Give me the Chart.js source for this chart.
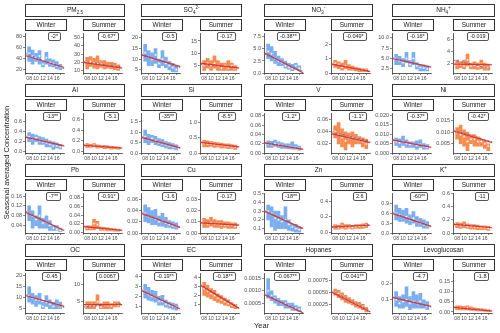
<!DOCTYPE html>
<html>
<head>
<meta charset="utf-8">
<script src="https://cdn.jsdelivr.net/npm/chart.js@4.4.1/dist/chart.umd.min.js"></script>
<style>
body{margin:0;width:500px;height:333px;background:#fff;position:relative;overflow:hidden;font-family:"Liberation Sans",Arial,sans-serif;}
.strip{position:absolute;border:1px solid #333;background:#fff;box-sizing:border-box;font-size:6.5px;line-height:10px;text-align:center;color:#1a1a1a;filter:grayscale(1);}
.strip sub,.strip sup{font-size:4.5px;line-height:0;}
.note{position:absolute;border:1px solid #555;border-radius:2px;font-size:5.5px;line-height:7px;padding:0 2px;background:#fff;color:#1a1a1a;filter:grayscale(1);}
canvas{position:absolute;}
.ytitle{position:absolute;left:-64px;top:158px;width:140px;text-align:center;font-size:7.5px;transform:rotate(-90deg);color:#1a1a1a;filter:grayscale(1);}
.xtitle{position:absolute;left:254px;top:321px;font-size:7.5px;color:#1a1a1a;filter:grayscale(1);}
</style>
</head>
<body>
<div class="ytitle">Seasonal averaged Concentration</div>
<div class="xtitle">Year</div>
<script>
// anni (stagioni) e etichette asse x
const years = [2008, 2009, 2010, 2011, 2012, 2013, 2014, 2015, 2016, 2017];
const xTickValues = [2008, 2010, 2012, 2014, 2016];
const xTickLabels = ['08', '10', '12', '14', '16'];

const species = ['PM<sub>2.5</sub>', 'SO<sub>4</sub><sup>2-</sup>', 'NO<sub>3</sub><sup>-</sup>', 'NH<sub>4</sub><sup>+</sup>',
  'Al', 'Si', 'V', 'Ni', 'Pb', 'Cu', 'Zn', 'K<sup>+</sup>', 'OC', 'EC', 'Hopanes', 'Levoglucosan'];

// box: [min, mediana, max] per anno
const pm25Winter = [[35,50,62],[30,45,56],[35,42,50],[30,45,55],[25,30,36],[30,42,52],[26,33,40],[25,31,38],[22,27,35],[20,25,30]];
const pm25Summer = [[12,20,26],[15,21,27],[13,19,25],[12,18,28],[14,18,22],[12,16,22],[13,16,20],[12,15,20],[11,15,19],[10,13,17]];
const so4Winter = [[9,13,17],[7,11,14],[7,10,13],[8,12,15],[6,8,10],[7,10,14],[6,8,11],[5,7,9],[4,6,8],[4,5,7]];
const so4Summer = [[3,5,7],[4,6,8],[3,5,7],[4,6,9],[3,5,7],[3,4,6],[3,5,6],[3,4,7],[3,5,6],[3,4,5]];
const no3Winter = [[3,4.5,6],[2.5,4,5.5],[2,3,4.5],[1.5,2.5,3.5],[1.5,2.2,3],[1,1.5,2.5],[0.8,1.2,2],[0.5,1,1.8],[0.8,1.5,2],[0.5,1,1.5]];
const no3Summer = [[0.4,0.7,0.9],[0.3,0.6,0.8],[0.2,0.4,0.7],[0.3,0.5,0.9],[0.2,0.4,0.6],[0.2,0.35,0.5],[0.15,0.3,0.4],[0.1,0.25,0.35],[0.1,0.2,0.3],[0.1,0.2,0.3]];
const nh4Winter = [[3.5,5,6],[3.5,4.5,5.5],[3,4,5],[4,5,6.5],[3,3.5,4.5],[3.5,5,6.5],[2.5,3.2,4],[2,2.8,3.5],[2,2.7,3.5],[2,2.5,3.2]];
const nh4Summer = [[1,1.8,2.5],[1.2,1.7,2.2],[1,1.5,2.5],[1.5,2.5,3.5],[1,1.5,2],[1,1.6,2.2],[0.9,1.4,2],[1,1.6,2.5],[0.8,1.3,2],[0.8,1.2,1.8]];
const alWinter = [[0.2,0.3,0.38],[0.15,0.25,0.35],[0.2,0.28,0.33],[0.15,0.22,0.3],[0.15,0.2,0.28],[0.1,0.18,0.25],[0.1,0.15,0.22],[0.05,0.12,0.2],[0.08,0.12,0.18],[0.06,0.1,0.15]];
const alSummer = [[0.08,0.12,0.15],[0.08,0.1,0.14],[0.09,0.12,0.15],[0.07,0.1,0.13],[0.08,0.1,0.12],[0.06,0.09,0.12],[0.07,0.09,0.11],[0.05,0.08,0.1],[0.06,0.08,0.1],[0.05,0.07,0.09]];
const siWinter = [[0.5,0.8,1.1],[0.4,0.65,0.9],[0.5,0.7,0.85],[0.4,0.6,0.8],[0.35,0.5,0.7],[0.3,0.45,0.65],[0.25,0.4,0.55],[0.2,0.35,0.5],[0.2,0.3,0.45],[0.15,0.28,0.4]];
const siSummer = [[0.2,0.32,0.42],[0.2,0.3,0.4],[0.22,0.3,0.38],[0.18,0.28,0.36],[0.2,0.27,0.34],[0.16,0.25,0.33],[0.17,0.24,0.3],[0.14,0.22,0.3],[0.15,0.21,0.28],[0.12,0.2,0.26]];
const vWinter = [[0.012,0.02,0.026],[0.012,0.018,0.025],[0.014,0.02,0.028],[0.012,0.018,0.024],[0.01,0.016,0.022],[0.01,0.015,0.02],[0.009,0.014,0.02],[0.008,0.013,0.024],[0.008,0.012,0.018],[0.006,0.01,0.015]];
const vSummer = [[0.03,0.04,0.05],[0.02,0.035,0.055],[0.015,0.03,0.045],[0.01,0.025,0.04],[0.02,0.03,0.038],[0.015,0.03,0.04],[0.02,0.028,0.036],[0.02,0.026,0.032],[0.015,0.024,0.03],[0.012,0.02,0.028]];
const niWinter = [[0.004,0.006,0.008],[0.003,0.0055,0.0075],[0.004,0.006,0.009],[0.003,0.005,0.007],[0.003,0.0045,0.006],[0.003,0.005,0.006],[0.002,0.004,0.0065],[0.003,0.0045,0.007],[0.002,0.0035,0.005],[0.002,0.003,0.0045]];
const niSummer = [[0.007,0.01,0.012],[0.005,0.009,0.013],[0.004,0.008,0.011],[0.002,0.006,0.01],[0.005,0.007,0.009],[0.004,0.007,0.009],[0.004,0.006,0.008],[0.004,0.006,0.007],[0.003,0.005,0.006],[0.002,0.004,0.005]];
const pbWinter = [[0.06,0.09,0.12],[0.03,0.08,0.1],[0.04,0.065,0.08],[0.03,0.08,0.12],[0.03,0.05,0.07],[0.03,0.055,0.08],[0.02,0.04,0.06],[0.02,0.03,0.04],[0.02,0.025,0.04],[0.015,0.02,0.03]];
const pbSummer = [[0.005,0.01,0.015],[0.005,0.01,0.015],[0.005,0.02,0.03],[0.01,0.018,0.025],[0.004,0.008,0.012],[0.004,0.007,0.011],[0.003,0.006,0.01],[0.003,0.006,0.009],[0.002,0.005,0.008],[0.002,0.004,0.006]];
const cuWinter = [[0.02,0.035,0.05],[0.018,0.03,0.045],[0.015,0.028,0.04],[0.015,0.025,0.042],[0.012,0.02,0.03],[0.012,0.022,0.035],[0.01,0.018,0.028],[0.01,0.015,0.022],[0.008,0.013,0.02],[0.007,0.012,0.018]];
const cuSummer = [[0.005,0.009,0.013],[0.005,0.008,0.012],[0.006,0.009,0.014],[0.005,0.008,0.012],[0.005,0.008,0.011],[0.004,0.007,0.011],[0.005,0.007,0.01],[0.004,0.007,0.01],[0.004,0.007,0.009],[0.004,0.006,0.009]];
const znWinter = [[0.2,0.3,0.37],[0.12,0.27,0.35],[0.08,0.22,0.3],[0.1,0.2,0.3],[0.1,0.18,0.25],[0.1,0.2,0.35],[0.08,0.15,0.2],[0.07,0.12,0.15],[0.06,0.1,0.15],[0.06,0.09,0.12]];
const znSummer = [[0.04,0.07,0.1],[0.04,0.06,0.09],[0.05,0.08,0.12],[0.04,0.07,0.1],[0.05,0.07,0.1],[0.04,0.06,0.09],[0.05,0.07,0.1],[0.05,0.08,0.1],[0.05,0.08,0.11],[0.06,0.09,0.12]];
const kWinter = [[0.4,0.6,0.85],[0.35,0.55,0.75],[0.35,0.5,0.7],[0.3,0.5,0.75],[0.25,0.4,0.55],[0.3,0.45,0.65],[0.2,0.35,0.5],[0.2,0.3,0.45],[0.15,0.25,0.4],[0.15,0.22,0.35]];
const kSummer = [[0.08,0.12,0.16],[0.07,0.11,0.15],[0.08,0.12,0.17],[0.07,0.1,0.14],[0.06,0.1,0.13],[0.06,0.09,0.13],[0.05,0.09,0.12],[0.05,0.08,0.11],[0.05,0.08,0.11],[0.04,0.07,0.1]];
const ocWinter = [[8,11,15],[7,10,12],[6,9,11],[7,9,12],[5,6,8],[6,8,11],[5,7,9],[5,6,8],[5,7,9],[5,6,8]];
const ocSummer = [[3,4,5],[3,4,5],[3,4,5],[4,5,7],[3,3.5,4.5],[3,4,5],[3,4,5],[3,3.8,4.5],[3.5,4.2,5],[3.5,4,5]];
const ecWinter = [[1.8,2.5,3.2],[1.6,2.2,2.9],[1.5,2,2.6],[1.4,1.9,2.5],[1.1,1.5,2],[1.1,1.5,2.1],[0.9,1.2,1.6],[0.8,1.1,1.4],[0.7,1,1.3],[0.6,0.9,1.2]];
const ecSummer = [[2,2.8,3.5],[1.8,2.5,3.2],[1.6,2.2,2.8],[1.4,2,2.6],[1.2,1.7,2.2],[1.1,1.5,2],[0.9,1.3,1.7],[0.8,1.1,1.5],[0.6,0.9,1.2],[0.5,0.8,1]];
const hopWinter = [[0.0007,0.001,0.0015],[0.0006,0.0008,0.001],[0.0005,0.0007,0.0008],[0.0004,0.0006,0.0007],[0.0004,0.0005,0.0006],[0.0003,0.0005,0.0006],[0.0003,0.0004,0.0005],[0.0002,0.0003,0.0005],[0.0002,0.0003,0.0004],[0.00015,0.00025,0.00035]];
const hopSummer = [[0.00045,0.0005,0.00058],[0.0004,0.00048,0.00055],[0.00035,0.00042,0.0005],[0.0003,0.00038,0.00045],[0.00028,0.00034,0.0004],[0.00025,0.0003,0.00036],[0.0002,0.00026,0.00032],[0.00018,0.00023,0.0003],[0.00015,0.0002,0.00026],[0.0001,0.00015,0.0002]];
const levoWinter = [[0.06,0.1,0.15],[0.05,0.08,0.12],[0.05,0.09,0.13],[0.06,0.1,0.18],[0.04,0.08,0.12],[0.05,0.09,0.15],[0.05,0.08,0.13],[0.05,0.09,0.14],[0.05,0.07,0.1],[0.04,0.06,0.09]];
const levoSummer = [[0.01,0.02,0.03],[0.01,0.02,0.03],[0.01,0.018,0.028],[0.01,0.02,0.03],[0.008,0.015,0.025],[0.006,0.012,0.02],[0.005,0.01,0.018],[0.005,0.01,0.016],[0.004,0.008,0.014],[0.003,0.006,0.012]];

const winterBoxes = [pm25Winter, so4Winter, no3Winter, nh4Winter, alWinter, siWinter, vWinter, niWinter, pbWinter, cuWinter, znWinter, kWinter, ocWinter, ecWinter, hopWinter, levoWinter];
const summerBoxes = [pm25Summer, so4Summer, no3Summer, nh4Summer, alSummer, siSummer, vSummer, niSummer, pbSummer, cuSummer, znSummer, kSummer, ocSummer, ecSummer, hopSummer, levoSummer];

// linee di tendenza: [rossa inizio, rossa fine, blu inizio, blu fine]
const winterFits = [[46,24,50,22],[12,6.5,12.5,6],[4.2,0,4,0.3],[5,2.9,5.2,2.8],[0.29,0.12,0.3,0.11],[0.75,0.25,0.8,0.22],[0.022,0.008,0.023,0.009],[0.007,0.003,0.0072,0.0032],[0.095,0.02,0.1,0.018],[0.035,0.01,0.037,0.009],[0.3,0.1,0.31,0.09],[0.6,0.2,0.63,0.18],[11,6,11.5,5.5],[2.6,0.7,2.7,0.65],[0.00085,0.0001,0.0009,0.00012],[0.115,0.06,0.12,0.055]];
const summerFits = [[20,13,21,14],[6,4,5.5,4.2],[0.65,0.1,0.6,0.15],[1.8,1.7,2.5,1],[0.12,0.07,0.13,0.07],[0.35,0.2,0.36,0.19],[0.037,0.022,0.04,0.024],[0.0105,0.0055,0.011,0.0058],[0.013,0.004,0.014,0.004],[0.009,0.007,0.0095,0.0068],[0.07,0.09,0.06,0.1],[0.13,0.08,0.14,0.08],[4.2,4.2,3.5,4.5],[3.2,0.5,3.3,0.55],[0.00052,0.0001,0.00055,0.00012],[0.023,0.004,0.025,0.005]];

// limiti asse y e etichette
const winterLimits = [[14,86],[3.5,22],[0,8.2],[1.5,11],[-0.02,0.75],[0,1.9],[0,0.085],[0,0.021],[0.01,0.17],[0,0.07],[0.05,0.5],[0,1.2],[3,21],[0.3,4.3],[0.0001,0.0017],[0.02,0.26]];
const summerLimits = [[7,55],[2,18],[0,2.8],[0.3,7],[-0.02,0.7],[0,1.3],[0.005,0.07],[0.001,0.018],[-0.002,0.09],[0,0.035],[-0.01,0.5],[0,0.6],[1.8,13],[0,4.5],[0.00008,0.0009],[-0.005,0.19]];
const winterTicks = [['20','40','60','80'],['5','10','15','20'],['0.0','2.5','5.0','7.5'],['2.5','5.0','7.5','10.0'],['0.0','0.2','0.4','0.6'],['0.0','0.5','1.0','1.5'],['0.00','0.02','0.04','0.06','0.08'],['0.000','0.005','0.010','0.015','0.020'],['0.04','0.08','0.12','0.16'],['0.00','0.02','0.04','0.06'],['0.1','0.2','0.3','0.4','0.5'],['0.0','0.3','0.6','0.9'],['5','10','15','20'],['1','2','3','4'],['0.0005','0.0010','0.0015'],['0.1','0.2']];
const summerTicks = [['10','20','30','40','50'],['5','10','15'],['0','1','2'],['2','4','6'],['0.0','0.2','0.4','0.6'],['0.0','0.5','1.0'],['0.02','0.04','0.06'],['0.005','0.010','0.015'],['0.00','0.02','0.04','0.06','0.08'],['0.00','0.01','0.02','0.03'],['0.0','0.2','0.4'],['0.0','0.2','0.4','0.6'],['5','10'],['1','2','3','4'],['0.00025','0.00050','0.00075'],['0.00','0.05','0.10','0.15']];

// pendenze annotate
const winterNotes = ['-2*','-0.5','-0.38**','-0.16*','-13**','-35**','-1.2*','-0.37*','-7**','-1.6','-18**','-60**','-0.45','-0.19**','-0.067**','-4.7'];
const summerNotes = ['-0.67*','-0.17','-0.049*','-0.019','-5.1','-8.5*','-1.1*','-0.42*','-0.91*','-0.17','2.6','-11','0.0067','-0.18**','-0.041**','-1.8'];

const winterColor = '#7aaef0';
const summerColor = '#f58b50';
const xMin = 2006.8, xMax = 2018.2;

const winterLeft = [25, 141, 264, 392];
const summerLeft = [83, 200, 331, 453];
const plotW = 42, plotH = 42, yW = 28, xH = 10;

function addDiv(cls, html, left, top, width, height) {
  const d = document.createElement('div');
  d.className = cls;
  d.innerHTML = html;
  d.style.left = left + 'px';
  d.style.top = top + 'px';
  if (width) d.style.width = width + 'px';
  if (height) d.style.height = height + 'px';
  document.body.appendChild(d);
  return d;
}

function drawPanel(left, top, boxes, fit, limits, ticks, note, color) {
  const c = document.createElement('canvas');
  c.width = yW + plotW + 2;
  c.height = 2 + plotH + xH;
  c.style.left = (left - yW) + 'px';
  c.style.top = (top - 2) + 'px';
  document.body.appendChild(c);
  const tickVals = ticks.map(Number);

  new Chart(c.getContext('2d'), {
    type: 'bar',
    data: {
      datasets: [
        {
          type: 'bar',
          order: 4,
          data: years.map((y, i) => ({ x: y, y: [boxes[i][0], boxes[i][2]] })),
          backgroundColor: color,
          borderWidth: 0,
          barThickness: 3,
          grouped: false
        },
        {
          type: 'scatter',
          order: 3,
          data: years.map((y, i) => ({ x: y, y: boxes[i][1] })),
          pointRadius: 1.2,
          pointBackgroundColor: '#fff',
          pointBorderColor: color,
          pointBorderWidth: 0.6
        },
        {
          type: 'line',
          order: 2,
          data: [{ x: xMin, y: fit[2] }, { x: xMax, y: fit[3] }],
          borderColor: '#3a6fd6',
          borderWidth: 0.9,
          borderDash: [2, 2],
          pointRadius: 0
        },
        {
          type: 'line',
          order: 1,
          data: [{ x: xMin, y: fit[0] }, { x: xMax, y: fit[1] }],
          borderColor: '#e8302a',
          borderWidth: 1.2,
          pointRadius: 0
        }
      ]
    },
    options: {
      responsive: false,
      animation: false,
      devicePixelRatio: 1,
      layout: { padding: { top: 2, right: 2, left: 0, bottom: 0 } },
      plugins: { legend: { display: false }, tooltip: { enabled: false } },
      scales: {
        x: {
          type: 'linear',
          min: xMin, max: xMax, offset: false,
          afterBuildTicks: s => { s.ticks = xTickValues.map(v => ({ value: v })); },
          afterFit: s => { s.height = xH; },
          ticks: { autoSkip: false, maxRotation: 0, padding: 1, color: '#4d4d4d', font: { size: 5, family: 'Liberation Sans' },
            callback: (v, i) => xTickLabels[i] },
          grid: { drawOnChartArea: false, drawTicks: true, tickLength: 2, color: '#333', lineWidth: 0.6 },
          border: { color: '#333', width: 0.8 }
        },
        y: {
          min: limits[0], max: limits[1],
          afterBuildTicks: s => { s.ticks = tickVals.map(v => ({ value: v })); },
          afterFit: s => { s.width = yW; },
          ticks: { autoSkip: false, padding: 1, color: '#4d4d4d', font: { size: 5.5, family: 'Liberation Sans' },
            callback: (v, i) => ticks[i] },
          grid: { drawOnChartArea: false, drawTicks: true, tickLength: 2, color: '#333', lineWidth: 0.6 },
          border: { color: '#333', width: 0.8 }
        }
      }
    }
  });

  const n = addDiv('note', note, 0, top + 1);
  n.style.left = (left + plotW - 6 - n.offsetWidth) + 'px';
}

species.forEach((name, k) => {
  const col = k % 4, row = Math.floor(k / 4);
  const wl = winterLeft[col], sl = summerLeft[col];
  const titleTop = 4 + row * 80, stripTop = 19 + row * 80, plotTop = 31 + row * 80;
  addDiv('strip', name, wl, titleTop, sl + plotW - wl, 13);
  addDiv('strip', 'Winter', wl, stripTop, plotW, 12);
  addDiv('strip', 'Summer', sl, stripTop, plotW, 12);
  drawPanel(wl, plotTop, winterBoxes[k], winterFits[k], winterLimits[k], winterTicks[k], winterNotes[k], winterColor);
  drawPanel(sl, plotTop, summerBoxes[k], summerFits[k], summerLimits[k], summerTicks[k], summerNotes[k], summerColor);
});
</script>
</body>
</html>
